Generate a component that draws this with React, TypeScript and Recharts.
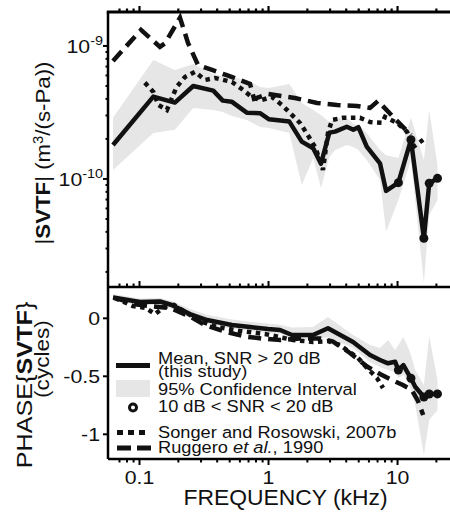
import React from 'react';
import { ComposedChart, Line, Area, XAxis, YAxis } from 'recharts';

const FONT = '"Liberation Sans", Arial, Helvetica, sans-serif';

// ---------- axes ----------
const xDomain = [0.057, 25.5];
const xTickValues = [0.07, 0.08, 0.09, 0.1, 0.2, 0.3, 0.4, 0.5, 0.6, 0.7, 0.8, 0.9, 1, 2, 3, 4, 5, 6, 7, 8, 9, 10, 20];
const xMajorTicks = [0.1, 1, 10];
const xTickLabels = ['0.1', '1', '10'];

const magDomain = [1.54e-11, 1.8e-9];
const magYTickValues = [2e-11, 3e-11, 4e-11, 5e-11, 6e-11, 7e-11, 8e-11, 9e-11, 1e-10, 2e-10, 3e-10, 4e-10, 5e-10, 6e-10, 7e-10, 8e-10, 9e-10, 1e-9];
const magYMajorTicks = [1e-10, 1e-9];
const magYTickExponents = ['-10', '-9'];

const phaseDomain = [-1.213, 0.27];
const phaseYTickValues = [0, -0.5, -1];
const phaseYTickLabels = ['0', '-0.5', '-1'];

// ---------- magnitude |SVTF| (m^3/(s-Pa)) ----------
const magFreq = [0.0623, 0.128, 0.188, 0.261, 0.373, 0.442, 0.518, 0.678, 0.859, 1.01, 1.45, 1.81, 2.22, 2.55, 2.96, 3.28, 4.04, 4.54, 4.97, 5.77, 7.31, 8.15, 10.15, 12.7, 16.0, 17.6, 20.4];
const magMean = [1.80e-10, 4.16e-10, 3.75e-10, 5.0e-10, 4.61e-10, 3.88e-10, 3.81e-10, 3.15e-10, 3.12e-10, 2.81e-10, 2.70e-10, 1.91e-10, 1.70e-10, 1.30e-10, 2.23e-10, 2.27e-10, 2.47e-10, 2.34e-10, 2.45e-10, 1.75e-10, 1.31e-10, 8.13e-11, 9.38e-11, 1.97e-10, 3.58e-11, 9.29e-11, 1.01e-10];
const magCiHigh = [2.88e-10, 7.85e-10, 6.60e-10, 7.32e-10, 6.16e-10, 5.95e-10, 5.84e-10, 5.55e-10, 4.92e-10, 4.83e-10, 5.18e-10, 3.73e-10, 3.30e-10, 3.03e-10, 2.68e-10, 2.88e-10, 2.88e-10, 2.59e-10, 2.55e-10, 2.22e-10, 1.65e-10, 1.51e-10, 1.44e-10, 2.88e-10, 1.39e-10, 3.30e-10, 1.27e-10];
const magCiLow = [1.17e-10, 2.22e-10, 2.34e-10, 3.42e-10, 3.30e-10, 3.19e-10, 2.98e-10, 2.78e-10, 2.46e-10, 2.42e-10, 2.22e-10, 9.0e-11, 1.44e-10, 8.55e-11, 1.46e-10, 1.65e-10, 1.80e-10, 1.74e-10, 1.65e-10, 1.39e-10, 9.8e-11, 4.0e-11, 6.95e-11, 1.39e-10, 1.65e-11, 5.36e-11, 6.95e-11];

const songerMagFreq = [0.110, 0.128, 0.140, 0.163, 0.194, 0.225, 0.269, 0.322, 0.385, 0.521, 0.635, 0.759, 0.891, 1.06, 1.27, 1.47, 1.75, 1.99, 2.29, 2.55, 2.64, 2.89, 3.11, 3.78, 5.12, 6.12, 7.58, 8.0, 9.91, 11.85, 13.2, 15.8];
const songerMag = [5.30e-10, 4.51e-10, 3.60e-10, 3.30e-10, 4.92e-10, 5.84e-10, 6.38e-10, 5.55e-10, 5.74e-10, 5.36e-10, 4.67e-10, 4.06e-10, 3.93e-10, 4.14e-10, 3.60e-10, 3.13e-10, 2.64e-10, 2.18e-10, 1.74e-10, 1.32e-10, 1.17e-10, 2.22e-10, 2.78e-10, 2.88e-10, 2.88e-10, 2.68e-10, 2.64e-10, 2.93e-10, 2.64e-10, 2.26e-10, 1.74e-10, 1.97e-10];

const ruggeroMagFreq = [0.0623, 0.1027, 0.1206, 0.144, 0.158, 0.206, 0.238, 0.284, 0.365, 0.469, 0.601, 0.719, 0.772, 0.992, 1.60, 2.38, 3.40, 4.85, 6.12, 7.06, 9.23, 12.7];
const ruggeroMag = [7.71e-10, 1.32e-9, 1.15e-9, 9.83e-10, 1.05e-9, 1.63e-9, 1.05e-9, 7.20e-10, 6.60e-10, 6.05e-10, 5.55e-10, 5.18e-10, 4.00e-10, 4.36e-10, 4.06e-10, 3.73e-10, 3.60e-10, 3.54e-10, 3.42e-10, 3.86e-10, 2.93e-10, 2.14e-10];

// ---------- phase (cycles) ----------
const phaseFreq = [0.0623, 0.1009, 0.144, 0.178, 0.246, 0.334, 0.521, 0.719, 0.992, 1.23, 1.52, 2.21, 2.89, 4.52, 6.12, 7.31, 8.44, 9.57, 10.15, 11.1, 11.85, 12.7, 13.7, 16.0, 17.6, 20.4];
const phaseMean = [0.179, 0.141, 0.145, 0.115, 0.037, -0.015, -0.058, -0.075, -0.092, -0.101, -0.144, -0.144, -0.086, -0.204, -0.316, -0.359, -0.388, -0.374, -0.446, -0.403, -0.460, -0.517, -0.590, -0.678, -0.653, -0.652];
const phaseCiHigh = [0.209, 0.170, 0.175, 0.149, 0.080, 0.030, -0.010, -0.030, -0.045, -0.055, -0.080, -0.075, 0.011, -0.144, -0.230, -0.256, -0.187, -0.273, -0.230, -0.161, -0.230, -0.316, -0.446, -0.575, -0.153, -0.532];
const phaseCiLow = [0.150, 0.115, 0.115, 0.080, 0.003, -0.049, -0.092, -0.109, -0.127, -0.135, -0.178, -0.187, -0.161, -0.256, -0.376, -0.420, -0.446, -0.463, -0.515, -0.489, -0.532, -0.618, -0.747, -1.178, -0.877, -0.791];

const songerPhaseFreq = [0.0646, 0.0891, 0.112, 0.132, 0.155, 0.185, 0.233, 0.294, 0.399, 0.601, 0.939, 1.55, 2.21, 2.89, 3.58, 4.13, 4.94, 5.80, 6.93, 7.72];
const songerPhase = [0.175, 0.106, 0.089, 0.037, 0.097, 0.115, 0.046, -0.023, -0.075, -0.109, -0.135, -0.187, -0.204, -0.196, -0.230, -0.282, -0.342, -0.428, -0.515, -0.601];

const ruggeroPhaseFreq = [0.0646, 0.0956, 0.1206, 0.172, 0.246, 0.322, 0.460, 0.658, 0.891, 1.23, 1.75, 2.51, 3.16, 4.28, 5.80, 7.31, 9.06, 11.0, 12.9, 14.4, 15.8];
const ruggeroPhase = [0.175, 0.119, 0.106, 0.089, 0.016, -0.058, -0.114, -0.157, -0.174, -0.187, -0.174, -0.174, -0.200, -0.299, -0.416, -0.480, -0.532, -0.575, -0.618, -0.713, -0.834];

// frequencies where 10 dB < SNR < 20 dB
const lowSnrFreq = [10.15, 12.7, 16.0, 17.6, 20.4];

// ---------- built series ----------
const pair = (fs: number[], vs: number[]) => fs.map((f, i) => ({ f, v: vs[i] }));
const band = (fs: number[], lo: number[], hi: number[]) => fs.map((f, i) => ({ f, band: [lo[i], hi[i]] }));

const magMeanData = pair(magFreq, magMean);
const magBandData = band(magFreq, magCiLow, magCiHigh);
const songerMagData = pair(songerMagFreq, songerMag);
const ruggeroMagData = pair(ruggeroMagFreq, ruggeroMag);
const phaseMeanData = pair(phaseFreq, phaseMean);
const phaseBandData = band(phaseFreq, phaseCiLow, phaseCiHigh);
const songerPhaseData = pair(songerPhaseFreq, songerPhase);
const ruggeroPhaseData = pair(ruggeroPhaseFreq, ruggeroPhase);

// ---------- layout / styles ----------
const MAG_TOP = 12; // top edge of magnitude plot area (px)
const PLOT_LEFT = 108;
const BLACK = '#111';
const BAND = '#e6e6e6';
const AXIS = { stroke: '#000', strokeWidth: 2.5 };
const LINE_W = 4.5;
const DOT_DASH = '4.5 4.5';
const LONG_DASH = '13 7';
const TICK_FS = 18.5;
const TICK_SX = 1.15;
const LEG_FS = 16.3;
const LEG_SX = 1.12;

// ---------- tick renderers ----------
// magnitude panel frequency ticks: at the panel boundary and at the top frame, both pointing up
const MagXTick = (p: any) => {
  const major = xMajorTicks.indexOf(p.payload.value) >= 0;
  const len = major ? 6 : 3.5;
  return (
    <g>
      <line x1={p.x} x2={p.x} y1={p.y} y2={p.y - len} stroke="#000" strokeWidth={2} />
      <line x1={p.x} x2={p.x} y1={MAG_TOP + 1} y2={MAG_TOP - len} stroke="#000" strokeWidth={2.2} />
    </g>
  );
};

const BottomXTick = (p: any) => {
  const idx = xMajorTicks.indexOf(p.payload.value);
  const major = idx >= 0;
  return (
    <g>
      <line x1={p.x} x2={p.x} y1={p.y} y2={p.y + (major ? 6 : 3.5)} stroke="#000" strokeWidth={2} />
      {major && (
        <text
          transform={`translate(${p.x},${p.y + 25}) scale(${TICK_SX},1)`}
          textAnchor="middle"
          fontSize={TICK_FS}
          fontFamily={FONT}
          fill={BLACK}
        >
          {xTickLabels[idx]}
        </text>
      )}
    </g>
  );
};

const MagYTick = (p: any) => {
  const idx = magYMajorTicks.indexOf(p.payload.value);
  const major = idx >= 0;
  return (
    <g>
      <line x1={p.x} x2={p.x - (major ? 5 : 2.5)} y1={p.y} y2={p.y} stroke="#000" strokeWidth={2} />
      {major && (
        <text
          transform={`translate(${p.x - 5},${p.y + 7}) scale(${TICK_SX},1)`}
          textAnchor="end"
          fontSize={TICK_FS}
          fontFamily={FONT}
          fill={BLACK}
        >
          10
          <tspan dy={-8} fontSize={12.5}>{magYTickExponents[idx]}</tspan>
        </text>
      )}
    </g>
  );
};

const PhaseYTick = (p: any) => {
  const idx = phaseYTickValues.indexOf(p.payload.value);
  return (
    <g>
      <line x1={p.x} x2={p.x - 5} y1={p.y} y2={p.y} stroke="#000" strokeWidth={2} />
      <text
        transform={`translate(${p.x - 8},${p.y + 7}) scale(${TICK_SX},1)`}
        textAnchor="end"
        fontSize={TICK_FS}
        fontFamily={FONT}
        fill={BLACK}
      >
        {phaseYTickLabels[idx]}
      </text>
    </g>
  );
};

const snrDot = (p: any) => {
  const show = lowSnrFreq.indexOf(p.payload.f) >= 0;
  if (!show) return <g key={`d${p.index}`} />;
  return <circle key={`d${p.index}`} cx={p.cx} cy={p.cy} r={4.5} fill={BLACK} />;
};

const xAxisCommon = {
  dataKey: 'f',
  type: 'number' as const,
  scale: 'log' as const,
  domain: xDomain,
  allowDataOverflow: true,
  ticks: xTickValues,
  interval: 0 as const,
  tickSize: 0,
  tickMargin: 0,
  tickLine: false,
  axisLine: AXIS,
};

const LegendText = ({ x, y, children }: { x: number; y: number; children: React.ReactNode }) => (
  <text transform={`translate(${x},${y}) scale(${LEG_SX},1)`} fontSize={LEG_FS}>
    {children}
  </text>
);

export default function App() {
  return (
    <div style={{ position: 'absolute', left: 0, top: 0, width: 450, height: 515, overflow: 'hidden', background: '#fff' }}>
      {/* Magnitude panel */}
      <div style={{ position: 'absolute', left: 0, top: 0 }}>
        <ComposedChart width={450} height={297} margin={{ top: MAG_TOP, right: 0, bottom: 0, left: 0 }} style={{ overflow: 'visible' }}>
          <XAxis {...xAxisCommon} orientation="bottom" height={10} tick={(p: any) => <MagXTick {...p} />} />
          <YAxis
            type="number"
            scale="log"
            domain={magDomain}
            allowDataOverflow
            ticks={magYTickValues}
            interval={0}
            tickSize={0}
            tickMargin={0}
            tickLine={false}
            axisLine={AXIS}
            width={PLOT_LEFT}
            tick={(p: any) => <MagYTick {...p} />}
          />
          <Area data={magBandData} dataKey="band" type="linear" stroke="none" fill={BAND} fillOpacity={1} isAnimationActive={false} />
          <Line data={ruggeroMagData} dataKey="v" type="linear" stroke={BLACK} strokeWidth={LINE_W} strokeDasharray={LONG_DASH} dot={false} isAnimationActive={false} />
          <Line data={songerMagData} dataKey="v" type="linear" stroke={BLACK} strokeWidth={LINE_W} strokeDasharray={DOT_DASH} dot={false} isAnimationActive={false} />
          <Line data={magMeanData} dataKey="v" type="linear" stroke={BLACK} strokeWidth={LINE_W} strokeLinejoin="round" dot={snrDot} isAnimationActive={false} />
        </ComposedChart>
      </div>

      {/* Phase panel */}
      <div style={{ position: 'absolute', left: 0, top: 287 }}>
        <ComposedChart width={450} height={228} margin={{ top: 0, right: 0, bottom: 0, left: 0 }}>
          <XAxis {...xAxisCommon} orientation="bottom" height={56} tick={(p: any) => <BottomXTick {...p} />} />
          <YAxis
            type="number"
            domain={phaseDomain}
            allowDataOverflow
            ticks={phaseYTickValues}
            interval={0}
            tickSize={0}
            tickMargin={0}
            tickLine={false}
            axisLine={AXIS}
            width={PLOT_LEFT}
            tick={(p: any) => <PhaseYTick {...p} />}
          />
          <Area data={phaseBandData} dataKey="band" type="linear" stroke="none" fill={BAND} fillOpacity={1} isAnimationActive={false} />
          <Line data={ruggeroPhaseData} dataKey="v" type="linear" stroke={BLACK} strokeWidth={LINE_W} strokeDasharray={LONG_DASH} dot={false} isAnimationActive={false} />
          <Line data={songerPhaseData} dataKey="v" type="linear" stroke={BLACK} strokeWidth={LINE_W} strokeDasharray={DOT_DASH} dot={false} isAnimationActive={false} />
          <Line data={phaseMeanData} dataKey="v" type="linear" stroke={BLACK} strokeWidth={LINE_W} strokeLinejoin="round" dot={snrDot} isAnimationActive={false} />
        </ComposedChart>
      </div>

      {/* Frame, titles and legend */}
      <svg width={450} height={515} style={{ position: 'absolute', left: 0, top: 0, pointerEvents: 'none' }} fontFamily={FONT} fill={BLACK}>
        <rect x={PLOT_LEFT - 1.25} y={MAG_TOP - 1.5} width={450 - PLOT_LEFT + 1.25} height={3} fill="#000" />

        <text transform="translate(49.5,153) rotate(-90) scale(1.06,1)" textAnchor="middle" fontSize={21}>
          <tspan>|</tspan>
          <tspan fontWeight="bold">SVTF</tspan>
          <tspan>| (m</tspan>
          <tspan dy={-7} fontSize={14}>3</tspan>
          <tspan dy={7}>/(s-Pa))</tspan>
        </text>
        <text transform="translate(31.5,385) rotate(-90) scale(1.12,1)" textAnchor="middle" fontSize={22.5}>
          <tspan>PHASE{'{'}</tspan>
          <tspan fontWeight="bold">SVTF</tspan>
          <tspan>{'}'}</tspan>
        </text>
        <text transform="translate(49,359) rotate(-90) scale(1.13,1)" textAnchor="middle" fontSize={20}>
          (cycles)
        </text>
        <text transform="translate(285.5,505) scale(1.04,1)" textAnchor="middle" fontSize={22}>
          FREQUENCY (kHz)
        </text>

        {/* legend */}
        <line x1={116} x2={150} y1={365.5} y2={365.5} stroke={BLACK} strokeWidth={5} />
        <LegendText x={158} y={364}>Mean, SNR &gt; 20 dB</LegendText>
        <LegendText x={158} y={377}>(this study)</LegendText>
        <rect x={116} y={380} width={34} height={17} fill={BAND} />
        <LegendText x={158} y={395}>95% Confidence Interval</LegendText>
        <circle cx={133} cy={407.5} r={3.5} fill="#fff" stroke={BLACK} strokeWidth={3} />
        <LegendText x={158} y={412}>10 dB &lt; SNR &lt; 20 dB</LegendText>
        <line x1={117} x2={150} y1={432.5} y2={432.5} stroke={BLACK} strokeWidth={5} strokeDasharray="6 5" />
        <LegendText x={158} y={438}>Songer and Rosowski, 2007b</LegendText>
        <line x1={117} x2={151} y1={448} y2={448} stroke={BLACK} strokeWidth={5} strokeDasharray="14 6" />
        <LegendText x={158} y={453}>
          Ruggero <tspan fontStyle="italic">et al.</tspan>, 1990
        </LegendText>
      </svg>
    </div>
  );
}
